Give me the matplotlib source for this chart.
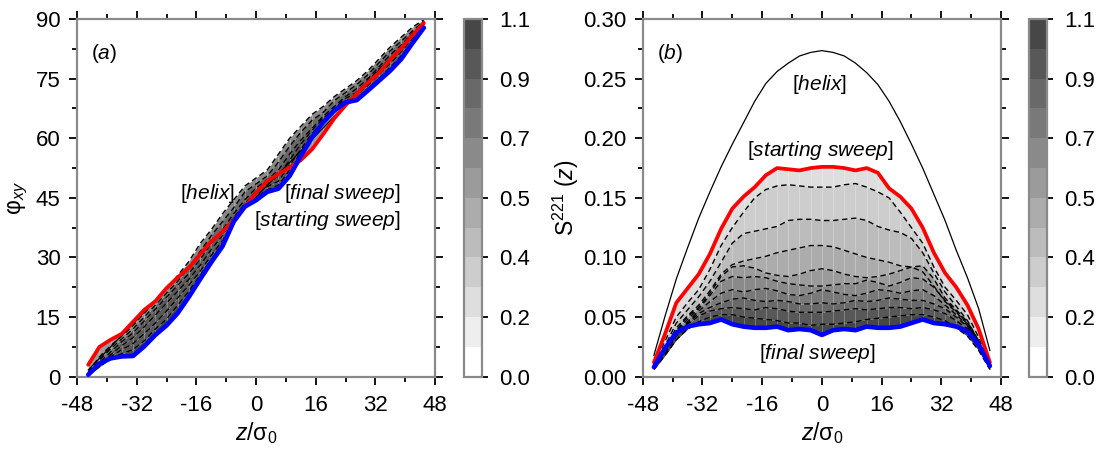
import numpy as np
import matplotlib
matplotlib.use("Agg")
import matplotlib.pyplot as plt
from matplotlib.colors import ListedColormap, BoundaryNorm
from matplotlib.cm import ScalarMappable
from matplotlib.ticker import MultipleLocator, FormatStrFormatter

plt.rcParams['font.family'] = ['Liberation Sans', 'DejaVu Sans']
plt.rcParams['mathtext.fontset'] = 'custom'
plt.rcParams['mathtext.rm'] = 'Liberation Sans'
plt.rcParams['mathtext.it'] = 'Liberation Sans:italic'
plt.rcParams['axes.unicode_minus'] = False

# common z grid (z / sigma_0)
z = [-45, -42, -39, -36, -33, -30, -27, -24, -21, -18, -15, -12, -9, -6, -3, 0,
     3, 6, 9, 12, 15, 18, 21, 24, 27, 30, 33, 36, 39, 42, 45]

# ---- panel (a): phi_xy ----
helix_a = [1.7, 4.6, 7.5, 10.4, 13.3, 16.2, 19.1, 22.0, 24.9, 27.8, 30.7, 33.6, 36.5, 39.4, 42.3, 45.2,
           48.1, 51.0, 53.9, 56.8, 59.7, 62.6, 65.5, 68.4, 71.3, 74.2, 77.1, 80.0, 82.9, 85.8, 88.7]
start_a = [3.0, 7.5, 9.3, 10.8, 13.8, 16.8, 19.0, 22.3, 25.0, 27.4, 30.8, 34.0, 36.5, 39.3, 42.7, 46.3,
           49.2, 51.0, 52.6, 54.5, 57.2, 61.0, 65.0, 68.3, 71.2, 74.0, 76.5, 79.8, 82.7, 86.0, 89.0]
final_a = [0.5, 3.3, 4.6, 5.1, 5.2, 7.6, 10.5, 12.9, 16.0, 20.1, 24.5, 28.8, 32.8, 39.0, 42.8, 44.4,
           46.5, 47.3, 50.5, 55.5, 60.2, 64.0, 67.0, 69.0, 69.6, 72.0, 74.5, 77.0, 80.0, 84.0, 87.8]
sweeps_a = [
    [1.2, 5.0, 7.8, 10.2, 12.8, 16.0, 18.8, 22.0, 25.5, 29.0, 33.5, 37.0, 41.0, 44.5, 48.0, 50.0,
     52.0, 56.0, 60.0, 63.0, 66.0, 68.0, 70.5, 72.5, 74.5, 77.0, 80.0, 83.0, 85.5, 88.0, 89.8],
    [0.9, 4.2, 7.0, 9.5, 12.0, 15.0, 18.0, 21.0, 24.0, 27.5, 31.5, 35.5, 39.0, 42.5, 46.5, 48.5,
     50.5, 54.0, 58.0, 61.5, 64.5, 66.5, 69.5, 71.5, 73.5, 76.0, 79.0, 82.0, 84.5, 87.0, 89.5],
    [0.7, 3.6, 6.2, 8.8, 11.0, 14.0, 17.0, 20.0, 23.0, 26.0, 29.5, 33.5, 37.0, 41.0, 44.5, 47.5,
     49.5, 52.0, 56.0, 59.5, 62.5, 65.5, 68.0, 70.5, 72.5, 75.0, 78.0, 81.0, 83.5, 86.5, 89.2],
    [0.5, 3.0, 5.5, 7.8, 9.8, 12.5, 15.5, 18.5, 21.5, 24.5, 28.0, 32.0, 35.5, 40.0, 43.5, 46.5,
     48.5, 50.5, 54.5, 58.5, 62.0, 65.0, 67.5, 70.0, 71.5, 74.5, 77.5, 80.0, 83.0, 86.0, 88.9],
    [0.4, 2.8, 5.0, 6.8, 8.3, 10.8, 13.5, 16.5, 19.8, 23.0, 26.5, 30.5, 34.2, 39.2, 43.0, 45.8,
     47.8, 49.2, 53.2, 57.2, 61.2, 64.2, 67.2, 69.3, 70.8, 73.3, 76.2, 78.8, 81.8, 85.2, 88.4],
    [0.3, 2.5, 4.5, 5.8, 6.8, 9.0, 12.0, 14.5, 18.0, 21.5, 25.5, 29.5, 33.5, 39.0, 42.8, 45.0,
     47.0, 48.2, 52.0, 56.5, 60.5, 64.0, 67.0, 69.2, 70.0, 72.5, 75.0, 77.8, 80.8, 84.5, 88.0],
]
# shade value of the bands: helix-start, start-1, 1-2, ..., 6-final
shade_a = [0.25, 0.6, 0.7, 0.85, 0.95, 1.0, 1.0, 1.05]

# ---- panel (b): S^221(z) ----
helix_b = [0.018, 0.051, 0.082, 0.108, 0.133, 0.155, 0.176, 0.195, 0.213, 0.231, 0.246, 0.256, 0.263,
           0.269, 0.272, 0.2735, 0.272, 0.269, 0.263, 0.255, 0.245, 0.231, 0.214, 0.195, 0.175, 0.153,
           0.131, 0.106, 0.083, 0.057, 0.022]
start_b = [0.012, 0.036, 0.062, 0.074, 0.086, 0.103, 0.124, 0.141, 0.151, 0.159, 0.169, 0.175, 0.174,
           0.173, 0.175, 0.176, 0.176, 0.175, 0.173, 0.175, 0.171, 0.158, 0.151, 0.141, 0.125, 0.104,
           0.087, 0.075, 0.060, 0.040, 0.012]
final_b = [0.008, 0.024, 0.037, 0.042, 0.044, 0.045, 0.048, 0.044, 0.042, 0.041, 0.041, 0.042, 0.039,
           0.040, 0.039, 0.035, 0.039, 0.040, 0.039, 0.042, 0.041, 0.041, 0.042, 0.045, 0.048, 0.045,
           0.044, 0.042, 0.038, 0.027, 0.009]
sweeps_b = [
    [0.010, 0.030, 0.050, 0.062, 0.073, 0.090, 0.110, 0.125, 0.138, 0.150, 0.157, 0.160, 0.161, 0.160,
     0.159, 0.159, 0.159, 0.161, 0.162, 0.159, 0.155, 0.150, 0.138, 0.125, 0.112, 0.092, 0.075, 0.064,
     0.052, 0.033, 0.010],
    [0.009, 0.026, 0.045, 0.056, 0.067, 0.080, 0.096, 0.112, 0.120, 0.122, 0.124, 0.126, 0.131, 0.132,
     0.132, 0.131, 0.131, 0.132, 0.133, 0.131, 0.126, 0.123, 0.121, 0.116, 0.104, 0.087, 0.071, 0.059,
     0.047, 0.030, 0.009],
    [0.009, 0.024, 0.041, 0.051, 0.060, 0.072, 0.086, 0.094, 0.097, 0.099, 0.101, 0.104, 0.106, 0.108,
     0.110, 0.110, 0.109, 0.106, 0.103, 0.100, 0.098, 0.096, 0.093, 0.092, 0.088, 0.076, 0.063, 0.054,
     0.044, 0.028, 0.009],
    [0.008, 0.023, 0.039, 0.050, 0.058, 0.070, 0.084, 0.092, 0.093, 0.091, 0.087, 0.085, 0.084, 0.086,
     0.089, 0.0905, 0.089, 0.086, 0.084, 0.083, 0.084, 0.086, 0.089, 0.092, 0.093, 0.082, 0.066, 0.056,
     0.046, 0.030, 0.008],
    [0.008, 0.022, 0.038, 0.048, 0.057, 0.068, 0.080, 0.084, 0.083, 0.084, 0.083, 0.080, 0.078, 0.077,
     0.076, 0.076, 0.077, 0.078, 0.078, 0.081, 0.079, 0.076, 0.079, 0.083, 0.082, 0.075, 0.064, 0.055,
     0.045, 0.029, 0.008],
    [0.008, 0.021, 0.036, 0.046, 0.055, 0.063, 0.070, 0.073, 0.071, 0.073, 0.074, 0.072, 0.069, 0.068,
     0.070, 0.073, 0.071, 0.069, 0.068, 0.070, 0.073, 0.072, 0.070, 0.072, 0.073, 0.068, 0.060, 0.052,
     0.043, 0.028, 0.008],
    [0.007, 0.020, 0.035, 0.045, 0.053, 0.058, 0.062, 0.065, 0.066, 0.064, 0.063, 0.064, 0.063, 0.061,
     0.061, 0.062, 0.061, 0.062, 0.064, 0.063, 0.064, 0.066, 0.065, 0.064, 0.064, 0.061, 0.057, 0.050,
     0.042, 0.027, 0.007],
    [0.007, 0.020, 0.034, 0.044, 0.051, 0.055, 0.057, 0.058, 0.057, 0.056, 0.058, 0.057, 0.055, 0.054,
     0.054, 0.054, 0.055, 0.056, 0.057, 0.056, 0.057, 0.058, 0.058, 0.057, 0.058, 0.056, 0.053, 0.047,
     0.040, 0.026, 0.007],
    [0.006, 0.018, 0.031, 0.040, 0.046, 0.050, 0.052, 0.052, 0.050, 0.049, 0.048, 0.047, 0.045, 0.045,
     0.043, 0.044, 0.044, 0.045, 0.046, 0.048, 0.049, 0.050, 0.051, 0.052, 0.052, 0.050, 0.047, 0.041,
     0.034, 0.022, 0.006],
]
# shade value of the bands: start-1, 1-2, ..., 9-final
shade_b = [0.2, 0.3, 0.4, 0.5, 0.6, 0.7, 0.8, 0.9, 1.0, 1.05]

# colour scale
cbar_levels = np.linspace(0.0, 1.1, 13)
cbar_labels = ['0.0', '0.2', '0.4', '0.5', '0.7', '0.9', '1.1']

cmap = ListedColormap([str(g) for g in np.linspace(1.0, 0.28, 12)])
norm = BoundaryNorm(cbar_levels, cmap.N)

fig = plt.figure(figsize=(11.07, 4.54), dpi=100)
ax_a = fig.add_axes([0.0696, 0.1703, 0.3234, 0.7878])
cax_a = fig.add_axes([0.4192, 0.1703, 0.0163, 0.7878])
ax_b = fig.add_axes([0.5806, 0.1703, 0.3237, 0.7878])
cax_b = fig.add_axes([0.9291, 0.1703, 0.0170, 0.7878])

spine_col = '#8a8a8a'
note_fs = 15
tick_fs = 16


def style_axes(ax):
    for s in ax.spines.values():
        s.set_color(spine_col)
        s.set_linewidth(1.6)
    ax.tick_params(which='both', direction='out', top=True, right=True,
                   labelsize=tick_fs, color='black', width=1.3)
    ax.tick_params(which='major', length=6)
    ax.tick_params(which='minor', length=3.5)
    ax.tick_params(axis='x', pad=7)
    ax.tick_params(axis='y', pad=6)
    ax.set_xlim(-48, 48)
    ax.xaxis.set_major_locator(MultipleLocator(16))
    ax.xaxis.set_minor_locator(MultipleLocator(8))
    ax.set_xlabel('$\\mathit{z}$/σ$_0$', fontsize=16.5, labelpad=3)


def draw_panel(ax, base, start, final, sweeps, shades, helix):
    curves = ([base] if base is not None else []) + [start] + sweeps + [final]
    for k in range(len(curves) - 1):
        ax.fill_between(z, curves[k], curves[k + 1], color=cmap(norm(shades[k])),
                        linewidth=0, zorder=1)
    # faint column seams of the shaded map
    for zz in z:
        ax.axvline(zz, color='white', lw=0.6, alpha=0.3, zorder=1.5)
    for s in sweeps:
        ax.plot(z, s, color='black', lw=1.0, dashes=(4, 2.5), zorder=2)
    ax.plot(z, helix, color='black', lw=0.9, zorder=3)
    ax.plot(z, start, color='#ff0000', lw=2.7, zorder=4, solid_capstyle='round')
    ax.plot(z, final, color='#0000ff', lw=3.3, zorder=5, solid_capstyle='round')


# panel (a)
draw_panel(ax_a, helix_a, start_a, final_a, sweeps_a, shade_a, helix_a)
style_axes(ax_a)
ax_a.set_ylim(0, 90)
ax_a.yaxis.set_major_locator(MultipleLocator(15))
ax_a.yaxis.set_minor_locator(MultipleLocator(7.5))
ax_a.set_ylabel('φ$_{xy}$', fontsize=16.5, labelpad=4)
ax_a.text(0.075, 0.905, '($\\mathit{a}$)', transform=ax_a.transAxes, fontsize=note_fs,
          ha='center', va='center')
ax_a.text(-13.0, 46.2, '[$\\mathit{helix}$]', fontsize=note_fs, ha='center', va='center')
ax_a.text(23.0, 46.2, '[$\\mathit{final\\ sweep}$]', fontsize=note_fs, ha='center', va='center')
ax_a.text(19.0, 39.4, '[$\\mathit{starting\\ sweep}$]', fontsize=note_fs, ha='center', va='center')

# panel (b)
draw_panel(ax_b, None, start_b, final_b, sweeps_b, shade_b, helix_b)
style_axes(ax_b)
ax_b.set_ylim(0, 0.30)
ax_b.yaxis.set_major_locator(MultipleLocator(0.05))
ax_b.yaxis.set_minor_locator(MultipleLocator(0.025))
ax_b.yaxis.set_major_formatter(FormatStrFormatter('%.2f'))
ax_b.set_ylabel('S$^{221}$ ($\\mathit{z}$)', fontsize=16.5, labelpad=1)
ax_b.text(0.075, 0.905, '($\\mathit{b}$)', transform=ax_b.transAxes, fontsize=note_fs,
          ha='center', va='center')
ax_b.text(-0.6, 0.2447, '[$\\mathit{helix}$]', fontsize=note_fs, ha='center', va='center')
ax_b.text(-0.3, 0.190, '[$\\mathit{starting\\ sweep}$]', fontsize=note_fs, ha='center', va='center')
ax_b.text(-1.3, 0.0196, '[$\\mathit{final\\ sweep}$]', fontsize=note_fs, ha='center', va='center')

# colour bars
for cax in (cax_a, cax_b):
    cb = fig.colorbar(ScalarMappable(norm=norm, cmap=cmap), cax=cax,
                      ticks=cbar_levels[::2], spacing='proportional')
    cb.ax.set_yticklabels(cbar_labels)
    cb.outline.set_edgecolor(spine_col)
    cb.outline.set_linewidth(1.6)
    cb.ax.tick_params(direction='out', length=4, width=1.3, labelsize=tick_fs, pad=8)
    cb.ax.minorticks_off()

fig.savefig('out.png', dpi=100)
